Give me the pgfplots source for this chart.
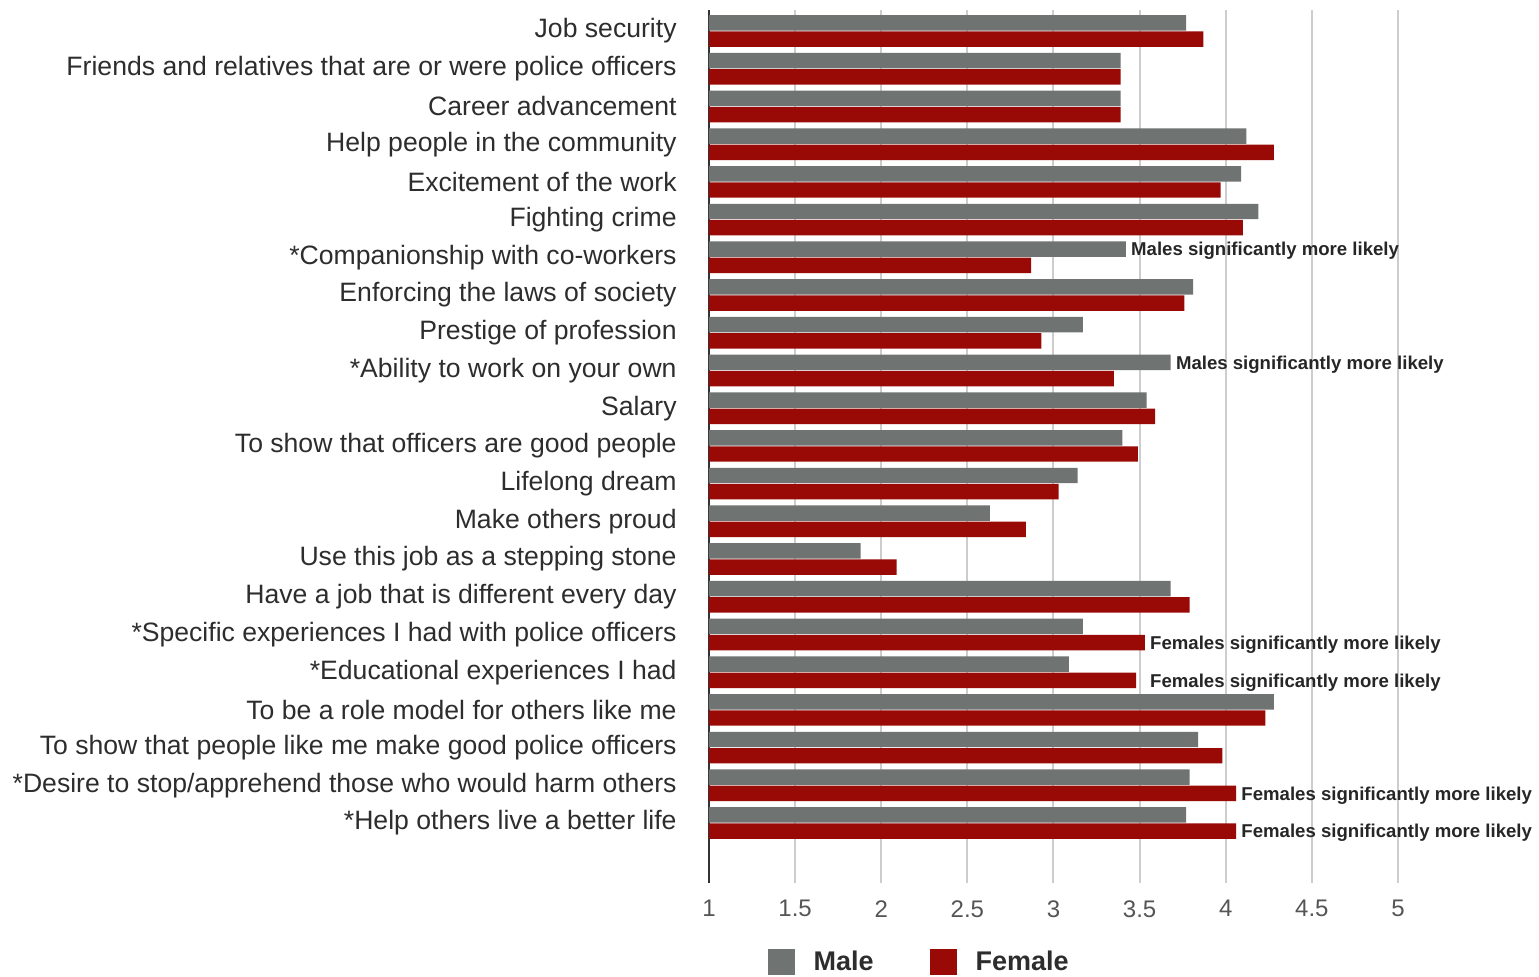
\documentclass[border=0pt]{standalone}
\usepackage{fontspec}
\setmainfont{Liberation Sans}
\usepackage{pgfplots}
\usepackage{pgfplotstable}
\pgfplotsset{compat=1.18}
\definecolor{malegray}{RGB}{111,115,113}
\definecolor{femred}{RGB}{153,10,6}
\definecolor{gridgray}{RGB}{205,205,205}
\definecolor{labelgray}{RGB}{45,45,45}
\definecolor{tickgray}{RGB}{85,85,85}
\tikzset{anno/.style={font=\bfseries\fontsize{9.3}{11}\selectfont, text=black!85, anchor=west, inner sep=0pt, xshift=2.5pt, yshift=-1pt}}

\pgfplotstableread{
idx male female
0 3.77 3.87
1 3.39 3.39
2 3.39 3.39
3 4.12 4.28
4 4.09 3.97
5 4.19 4.10
6 3.42 2.87
7 3.81 3.76
8 3.17 2.93
9 3.68 3.35
10 3.54 3.59
11 3.40 3.49
12 3.14 3.03
13 2.63 2.84
14 1.88 2.09
15 3.68 3.79
16 3.17 3.53
17 3.09 3.48
18 4.28 4.23
19 3.84 3.98
20 3.79 4.06
21 3.77 4.06
}\datatable

\begin{document}
\begin{tikzpicture}
\path[use as bounding box] (0pt,0pt) rectangle (769.5pt,-488pt);
\begin{axis}[
  at={(354.5pt,-441.5pt)}, anchor=south west,
  scale only axis, width=413.4pt, height=436.5pt,
  xmin=1, xmax=5.8, ymin=-0.557, ymax=22.59, y dir=reverse,
  xbar, bar width=0.41,
  axis y line*=left, axis x line*=bottom,
  x axis line style={draw=none,-},
  y axis line style={-, draw=black!80, line width=1.2pt},
  xtick={1,1.5,2,2.5,3,3.5,4,4.5,5},
  xticklabels={1,1.5,2,2.5,3,3.5,4,4.5,5},
  ytick={0,1,...,21},
  yticklabels={
    Job security,
    Friends and relatives that are or were police officers,
    Career advancement,
    Help people in the community,
    Excitement of the work,
    Fighting crime,
    *Companionship with co-workers,
    Enforcing the laws of society,
    Prestige of profession,
    *Ability to work on your own,
    Salary,
    To show that officers are good people,
    Lifelong dream,
    Make others proud,
    Use this job as a stepping stone,
    Have a job that is different every day,
    *Specific experiences I had with police officers,
    *Educational experiences I had,
    To be a role model for others like me,
    To show that people like me make good police officers,
    *Desire to stop/apprehend those who would harm others,
    *Help others live a better life},
  major tick length=0pt,
  xmajorgrids, grid style={gridgray, line width=1pt},
  yticklabel style={font=\fontsize{13.3}{15}\selectfont, text=labelgray, inner sep=0pt, xshift=-16pt},
  xticklabel style={font=\fontsize{12}{14}\selectfont, text=tickgray, inner sep=0pt, yshift=-8.5pt},
  legend style={at={(0.2553,-0.0905)}, anchor=center, draw=none, fill=none,
    legend columns=2, font=\bfseries\fontsize{13.5}{16}\selectfont, text=labelgray,
    /tikz/every odd column/.append style={column sep=7.5pt},
    /tikz/every even column/.append style={column sep=26pt}},
  legend image code/.code={\fill[#1, draw=none] (0pt,-6.5pt) rectangle (13.5pt,6.5pt);},
]
\addplot[draw=none, fill=malegray, bar shift=-0.215] table[x=male, y=idx]{\datatable};
\addplot[draw=none, fill=femred, bar shift=0.215] table[x=female, y=idx]{\datatable};
\legend{Male, Female}
\node[anno] at (axis cs:3.42,5.785) {Males significantly more likely};
\node[anno] at (axis cs:3.68,8.785) {Males significantly more likely};
\node[anno] at (axis cs:3.53,16.215) {Females significantly more likely};
\node[anno] at (axis cs:3.53,17.215) {Females significantly more likely};
\node[anno] at (axis cs:4.06,20.215) {Females significantly more likely};
\node[anno] at (axis cs:4.06,21.215) {Females significantly more likely};
\end{axis}
\end{tikzpicture}
\end{document}
